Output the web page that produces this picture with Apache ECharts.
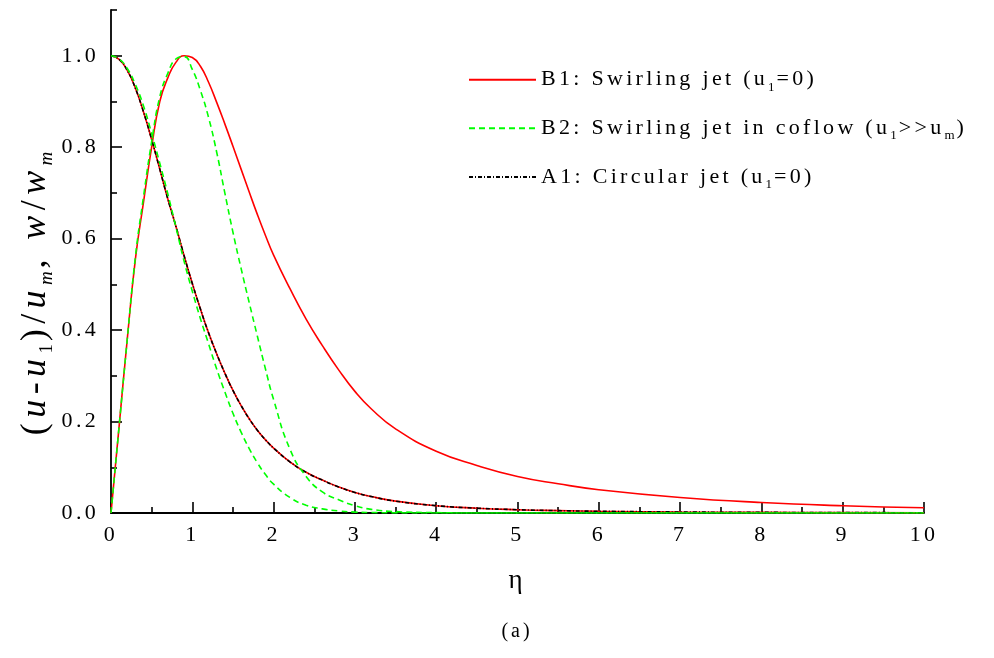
<!DOCTYPE html>
<html>
<head>
<meta charset="utf-8">
<script src="https://cdn.jsdelivr.net/npm/echarts@6/dist/echarts.min.js"></script>
<style>
  html, body { margin: 0; padding: 0; background: #fff; }
  #chart { width: 994px; height: 658px; }
</style>
</head>
<body>
<div id="chart"></div>
<script>
// Similarity coordinate eta shared by all profiles
const eta = [0, 0.1, 0.2, 0.3, 0.4, 0.5, 0.6, 0.7, 0.8, 0.9, 1.0,
             1.1, 1.2, 1.3, 1.4, 1.5, 1.6, 1.7, 1.8, 1.9, 2.0,
             2.2, 2.4, 2.6, 2.8, 3.0, 3.2, 3.5, 4.0, 4.5, 5.0, 5.5, 6, 7, 8, 9, 10];

// A1: circular jet, axial velocity (u - u1)/um
const circularAxial = [1, 0.992, 0.968, 0.929, 0.877, 0.817, 0.752, 0.686, 0.626, 0.562, 0.502,
                       0.446, 0.394, 0.348, 0.306, 0.268, 0.235, 0.206, 0.181, 0.160, 0.142,
                       0.112, 0.089, 0.072, 0.057, 0.045, 0.036, 0.026, 0.016, 0.0105, 0.0072, 0.0052, 0.0038, 0.0022, 0.0014, 0.0009, 0.0006];

// B1: swirling jet, axial profile (lies on the A1 curve)
const swirlAxial = [1, 0.992, 0.968, 0.929, 0.877, 0.817, 0.752, 0.686, 0.626, 0.562, 0.502,
                    0.446, 0.394, 0.348, 0.306, 0.268, 0.235, 0.206, 0.181, 0.160, 0.142,
                    0.112, 0.089, 0.072, 0.057, 0.045, 0.036, 0.026, 0.016, 0.0105, 0.0072, 0.0052, 0.0038, 0.0022, 0.0014, 0.0009, 0.0006];

// B1: swirling jet, swirl velocity w/wm
const swirlTangential = [0, 0.19, 0.38, 0.555, 0.68, 0.80, 0.90, 0.952, 0.986, 1.0, 0.996,
                         0.977, 0.942, 0.898, 0.851, 0.802, 0.752, 0.702, 0.653, 0.607, 0.564,
                         0.491, 0.424, 0.366, 0.313, 0.266, 0.228, 0.184, 0.135, 0.104, 0.080, 0.064, 0.051, 0.034, 0.023, 0.016, 0.0115];

// B2: swirling jet in coflow, axial velocity
const coflowAxial = [1, 0.993, 0.972, 0.937, 0.89, 0.83, 0.765, 0.697, 0.624, 0.55, 0.485,
                     0.425, 0.37, 0.315, 0.265, 0.218, 0.177, 0.141, 0.110, 0.084, 0.063,
                     0.034, 0.017, 0.009, 0.0045, 0.002, 0.001, 0.0003, 0, 0, 0, 0, 0, 0, 0, 0, 0];

// B2: swirling jet in coflow, swirl velocity
const coflowTangential = [0, 0.19, 0.38, 0.56, 0.692, 0.812, 0.91, 0.962, 0.993, 0.998, 0.97,
                          0.924, 0.865, 0.789, 0.700, 0.614, 0.535, 0.460, 0.387, 0.315, 0.248,
                          0.14, 0.08, 0.046, 0.029, 0.016, 0.008, 0.003, 0.0008, 0, 0, 0, 0, 0, 0, 0, 0];

// Axis ticks
const yMajorTicks = [0, 0.2, 0.4, 0.6, 0.8, 1.0];
const yMinorTicks = [0.1, 0.3, 0.5, 0.7, 0.9, 1.1];

// Legend entries
const legendNames = ['B1', 'B2', 'A1'];
const legendLabels = {
  B1: '{n|B1: Swirling jet (u}{s|1}{n|=0)}',
  B2: '{n|B2: Swirling jet in coflow (u}{s|1}{n|>>u}{s|m}{n|)}',
  A1: '{n|A1: Circular jet (u}{s|1}{n|=0)}'
};

// Loose tracking for all canvas text (glyph spacing proportional to font size)
(function () {
  const proto = CanvasRenderingContext2D.prototype;
  const d = Object.getOwnPropertyDescriptor(proto, 'font');
  if (!d || !('letterSpacing' in proto)) return;
  Object.defineProperty(proto, 'font', {
    configurable: true,
    get() { return d.get.call(this); },
    set(v) {
      d.set.call(this, v);
      const m = /(\d+(?:\.\d+)?)px/.exec(v);
      this.letterSpacing = m ? (parseFloat(m[1]) * 0.15).toFixed(2) + 'px' : '0px';
    }
  });
})();

const serif = '"Liberation Serif", "Times New Roman", serif';
const pairs = ys => eta.map((x, i) => [x, ys[i]]);

const RED = '#ff0000', GREEN = '#00ff00', BLACK = '#000000';

function curve(name, ys, color, type) {
  return {
    name, type: 'line', data: pairs(ys),
    smooth: 0.5,
    symbol: 'none', clip: true,
    lineStyle: { color, width: 1.6, type },
    itemStyle: { color }
  };
}

const chart = echarts.init(document.getElementById('chart'), null, { renderer: 'canvas' });

const axisLineStyle = { color: BLACK, width: 1.8 };
const tickLineStyle = { color: BLACK, width: 1.6 };

chart.setOption({
  animation: false,
  backgroundColor: '#ffffff',
  grid: { left: 111, top: 10, width: 813, height: 503, containLabel: false },
  xAxis: {
    type: 'value', min: 0, max: 10, interval: 1,
    axisLine: { show: true, onZero: false, lineStyle: axisLineStyle },
    axisTick: { show: true, inside: true, length: 11, lineStyle: tickLineStyle },
    minorTick: { show: true, splitNumber: 2, length: 6, lineStyle: tickLineStyle },
    splitLine: { show: false },
    axisLabel: { color: BLACK, fontFamily: serif, fontSize: 22, margin: 10 },
    name: 'η', nameLocation: 'middle', nameGap: 52,
    nameTextStyle: { color: BLACK, fontFamily: serif, fontSize: 27 }
  },
  yAxis: [
    {
      type: 'value', min: 0, max: 1.1, interval: 0.1,
      axisLine: { show: true, onZero: false, lineStyle: axisLineStyle },
      axisTick: { show: true, inside: true, length: 11, lineStyle: tickLineStyle, customValues: yMajorTicks },
      splitLine: { show: false },
      axisLabel: {
        color: BLACK, fontFamily: serif, fontSize: 22, margin: 12,
        customValues: yMajorTicks,
        formatter: v => v.toFixed(1)
      }
    },
    {
      type: 'value', min: 0, max: 1.1, interval: 0.1, position: 'left', offset: 0,
      axisLine: { show: false },
      axisTick: { show: true, inside: true, length: 6, lineStyle: tickLineStyle, customValues: yMinorTicks },
      splitLine: { show: false },
      axisLabel: { show: false }
    }
  ],
  legend: {
    data: legendNames,
    orient: 'vertical',
    left: 463, top: 62,
    itemWidth: 67, itemHeight: 14, itemGap: 21,
    itemStyle: { opacity: 0, borderWidth: 0 },
    formatter: name => legendLabels[name],
    textStyle: {
      rich: {
        n: { fontFamily: serif, fontSize: 22, color: BLACK, lineHeight: 30 },
        s: { fontFamily: serif, fontSize: 13, color: BLACK, lineHeight: 13, verticalAlign: 'bottom' }
      }
    }
  },
  graphic: [
    {
      type: 'text', x: 36, y: 292, rotation: Math.PI / 2,
      style: {
        text: '{a|(}{i|u}{a|-}{i|u}{s|1}{a|)/}{i|u}{si|m}{a|, }{i|w}{a|/}{i|w}{si|m}',
        align: 'center', verticalAlign: 'middle',
        rich: {
          a: { fontFamily: serif, fontSize: 36, color: BLACK, lineHeight: 44 },
          i: { fontFamily: serif, fontSize: 36, fontStyle: 'italic', color: BLACK, lineHeight: 44 },
          s: { fontFamily: serif, fontSize: 19, color: BLACK, lineHeight: 19, verticalAlign: 'bottom' },
          si: { fontFamily: serif, fontSize: 19, fontStyle: 'italic', color: BLACK, lineHeight: 19, verticalAlign: 'bottom' }
        }
      }
    },
    {
      type: 'text', x: 517, y: 632,
      style: { text: '(a)', fontFamily: serif, fontSize: 20, fill: BLACK, align: 'center', verticalAlign: 'middle' }
    }
  ],
  series: [
    curve('B1', swirlAxial, RED, 'solid'),
    curve('B1', swirlTangential, RED, 'solid'),
    curve('A1', circularAxial, BLACK, [4, 2, 1, 2]),
    curve('B2', coflowAxial, GREEN, [6, 4]),
    curve('B2', coflowTangential, GREEN, [6, 4])
  ]
});
</script>
</body>
</html>
